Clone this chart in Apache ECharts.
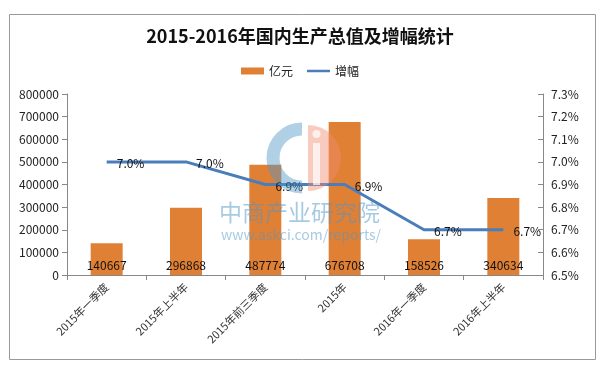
<!DOCTYPE html>
<html><head><meta charset="utf-8">
<script src="https://cdn.jsdelivr.net/npm/echarts@6/dist/echarts.min.js"></script>
<style>html,body{margin:0;padding:0;background:#fff}#c{width:600px;height:368px}</style>
</head><body><div id="c"></div>
<script>
const categories = ['2015年一季度','2015年上半年','2015年前三季度','2015年','2016年一季度','2016年上半年'];
const gdp = [140667, 296868, 487774, 676708, 158526, 340634];
const growth = [7.0, 7.0, 6.9, 6.9, 6.7, 6.7];
const titleText = '2015-2016年国内生产总值及增幅统计';
const seriesNames = ['亿元', '增幅'];

const font = '"Noto Sans CJK SC", "Noto Sans", sans-serif';
const chart = echarts.init(document.getElementById('c'));
chart.setOption({
  animation: false,
  textStyle: {fontFamily: font},
  title: {text: titleText, left: 'center', top: 22, textStyle: {fontSize: 18, fontWeight: 'bold', color: '#111', fontFamily: font}},
  legend: {top: 60, left: 'center', itemGap: 14, itemWidth: 23, itemHeight: 7,
    textStyle: {fontSize: 12, color: '#222'},
    data: [{name: seriesNames[0], icon: 'rect'}, {name: seriesNames[1], icon: 'path://M0,0 L23,0 L23,2.5 L0,2.5 Z'}]},
  graphic: [
    {type: 'rect', left: 7, top: 12, shape: {width: 586, height: 345}, style: {fill: 'none', stroke: '#999', lineWidth: 1}, silent: true, z: -1},
    {type: 'arc', shape: {cx: 302, cy: 158, r: 29, startAngle: Math.PI * 0.5, endAngle: Math.PI * 1.5}, style: {stroke: 'rgba(80,150,200,0.45)', lineWidth: 13, fill: 'none'}, silent: true, z: 10},
    {type: 'sector', shape: {cx: 308, cy: 158, r: 33, r0: 0, startAngle: -Math.PI * 0.5, endAngle: Math.PI * 0.5}, style: {fill: 'rgba(240,140,110,0.45)'}, silent: true, z: 10},
    {type: 'rect', shape: {x: 313, y: 143, width: 7, height: 42}, style: {fill: 'rgba(255,255,255,0.7)'}, silent: true, z: 11},
    {type: 'circle', shape: {cx: 316.5, cy: 134, r: 4}, style: {fill: 'rgba(255,255,255,0.7)'}, silent: true, z: 11},
    {type: 'text', left: 219, top: 201, style: {text: '中商产业研究院', fontSize: 23, fill: 'rgba(80,150,200,0.5)', fontFamily: font}, silent: true, z: 10},
    {type: 'text', left: 221, top: 228, style: {text: 'www.askci.com/reports/', fontSize: 14, fill: 'rgba(80,150,200,0.5)', fontFamily: font}, silent: true, z: 10}
  ],
  grid: {left: 67, right: 57, top: 94, bottom: 93},
  xAxis: {type: 'category', data: categories,
    axisLine: {lineStyle: {color: '#888'}},
    axisTick: {show: true, alignWithLabel: false, lineStyle: {color: '#888'}},
    axisLabel: {rotate: 45, interval: 0, fontSize: 11, color: '#333', margin: 10}},
  yAxis: [
    {type: 'value', min: 0, max: 800000, interval: 100000, splitLine: {show: false},
      axisLine: {show: true, lineStyle: {color: '#888'}}, axisTick: {show: true, lineStyle: {color: '#888'}},
      axisLabel: {fontSize: 12, color: '#222', margin: 8, formatter: v => String(v)}},
    {type: 'value', min: 6.5, max: 7.3, interval: 0.1, splitLine: {show: false},
      axisLine: {show: true, lineStyle: {color: '#888'}}, axisTick: {show: true, inside: true, lineStyle: {color: '#888'}},
      axisLabel: {fontSize: 12, color: '#222', margin: 8, formatter: v => v.toFixed(1) + '%'}}
  ],
  series: [
    {name: seriesNames[0], type: 'bar', data: gdp, barWidth: 32, itemStyle: {color: '#E08035'},
      label: {show: true, position: 'insideBottom', distance: 4, color: '#111', fontSize: 12}},
    {name: seriesNames[1], type: 'line', yAxisIndex: 1, data: growth, symbol: 'circle', symbolSize: 0.1, showSymbol: true, z: 3,
      lineStyle: {color: '#4A7EBB', width: 3}, itemStyle: {color: '#4A7EBB'},
      label: {show: true, position: 'right', distance: 10, offset: [0, 2], color: '#111', fontSize: 12, formatter: p => p.value.toFixed(1) + '%'}}
  ]
});
</script></body></html>
